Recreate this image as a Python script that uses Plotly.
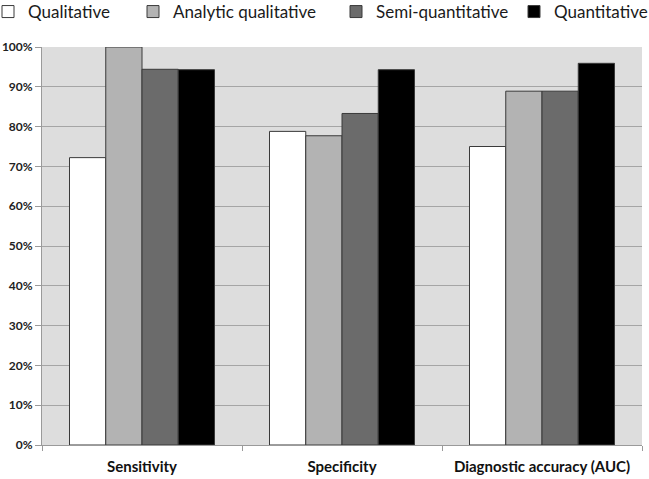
import plotly.graph_objects as go

categories = ["Sensitivity", "Specificity", "Diagnostic accuracy (AUC)"]
series_names = ["Qualitative", "Analytic qualitative", "Semi-quantitative", "Quantitative"]
qualitative = [0.722, 0.788, 0.750]
analytic_qualitative = [1.000, 0.777, 0.889]
semi_quantitative = [0.944, 0.833, 0.889]
quantitative = [0.943, 0.943, 0.959]
y_ticks = [0, 0.1, 0.2, 0.3, 0.4, 0.5, 0.6, 0.7, 0.8, 0.9, 1.0]

colors = ["#ffffff", "#b3b3b3", "#6b6b6b", "#000000"]
values = [qualitative, analytic_qualitative, semi_quantitative, quantitative]
legend_ids = ["legend2", "legend3", "legend4", "legend5"]

fig = go.Figure()
for name, vals, col, lg in zip(series_names, values, colors, legend_ids):
    fig.add_trace(go.Bar(
        x=categories, y=vals, name=name, legend=lg,
        marker=dict(color=col, line=dict(color="#3a3a3a", width=1)),
    ))

legend_font = dict(family="Lato, Open Sans, sans-serif", size=17, color="#1a1a1a")
ML, MT, PW, PH = 42, 47, 600.0, 398.0
def lg(px):
    return dict(x=(px - ML) / PW, y=1 + (MT + 6) / PH, xref="paper", yref="paper",
                xanchor="left", yanchor="top",
                orientation="h", font=legend_font, bgcolor="rgba(0,0,0,0)",
                itemwidth=30, tracegroupgap=0)

fig.update_layout(
    width=649, height=479,
    margin=dict(l=42, r=7, t=47, b=34, autoexpand=False),
    plot_bgcolor="#dddddd",
    paper_bgcolor="#ffffff",
    bargap=0.275, bargroupgap=0,
    barmode="group",
    legend2=lg(-12),
    legend3=lg(133),
    legend4=lg(336),
    legend5=lg(514),
    xaxis=dict(
        showline=True, linecolor="#9a9a9a", linewidth=1,
        ticks="outside", tickson="boundaries", ticklen=5, tickcolor="#9a9a9a",
        tickfont=dict(family="Lato, Open Sans, sans-serif", size=15, color="#111111", weight="bold"),
        ticklabelstandoff=8,
        showgrid=False,
    ),
    yaxis=dict(
        range=[0, 1], tickvals=y_ticks, tickformat=".0%",
        showline=True, linecolor="#9a9a9a", linewidth=1,
        ticks="outside", ticklen=6, tickcolor="#9a9a9a",
        gridcolor="#a5a5a5", gridwidth=1,
        tickfont=dict(family="Lato, Open Sans, sans-serif", size=12, color="#222222", weight="bold"),
        zeroline=False,
    ),
)

fig.write_html("out.html", config={"displayModeBar": False},
               post_script="document.body.style.margin='0px';")
